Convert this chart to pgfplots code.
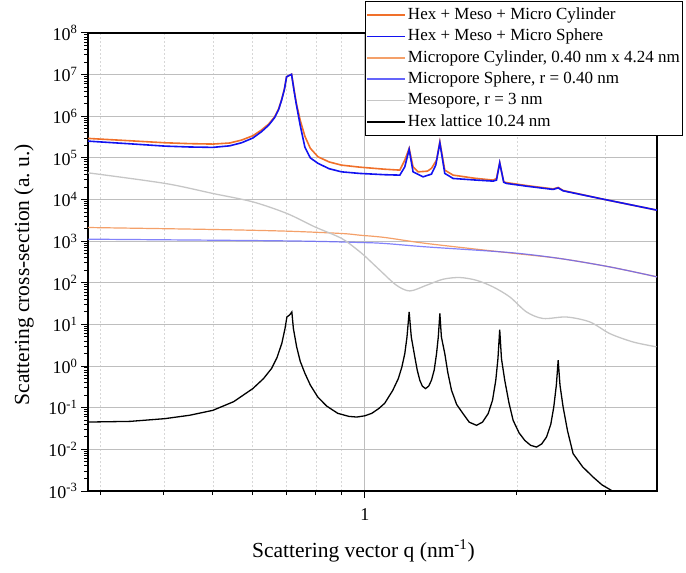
\documentclass[border=0pt]{standalone}
\usepackage{fontspec}
\setmainfont{Liberation Serif}
\usepackage{pgfplots}
\pgfplotsset{compat=1.18}

\definecolor{hexcyl}{RGB}{240,112,42}
\definecolor{hexsph}{RGB}{18,18,240}
\definecolor{microcyl}{RGB}{244,160,105}
\definecolor{microsph}{RGB}{100,100,250}
\definecolor{meso}{RGB}{198,198,198}
\definecolor{gridgray}{RGB}{190,190,190}
\definecolor{gridlight}{RGB}{215,215,215}

\begin{document}
\begin{tikzpicture}
\begin{axis}[
  scale only axis,
  width=569pt, height=458pt,
  xmode=log, ymode=log,
  xmin=0.283, xmax=3.79,
  ymin=1e-3, ymax=1e8,
  xtick={1}, xticklabels={1},
  minor xtick={0.3,0.4,0.5,0.6,0.7,0.8,0.9,2,3},
  ytick={1e-3,1e-2,1e-1,1,1e1,1e2,1e3,1e4,1e5,1e6,1e7,1e8},
  yticklabels={10\textsuperscript{-3},10\textsuperscript{-2},10\textsuperscript{-1},10\textsuperscript{0},
    10\textsuperscript{1},10\textsuperscript{2},10\textsuperscript{3},10\textsuperscript{4},
    10\textsuperscript{5},10\textsuperscript{6},10\textsuperscript{7},10\textsuperscript{8}},
  minor ytick={2e-3,3e-3,4e-3,5e-3,6e-3,7e-3,8e-3,9e-3,
    2e-2,3e-2,4e-2,5e-2,6e-2,7e-2,8e-2,9e-2,
    2e-1,3e-1,4e-1,5e-1,6e-1,7e-1,8e-1,9e-1,
    2,3,4,5,6,7,8,9,
    20,30,40,50,60,70,80,90,
    200,300,400,500,600,700,800,900,
    2e3,3e3,4e3,5e3,6e3,7e3,8e3,9e3,
    2e4,3e4,4e4,5e4,6e4,7e4,8e4,9e4,
    2e5,3e5,4e5,5e5,6e5,7e5,8e5,9e5,
    2e6,3e6,4e6,5e6,6e6,7e6,8e6,9e6,
    2e7,3e7,4e7,5e7,6e7,7e7,8e7,9e7},
  tick pos=left,
  tick align=outside,
  major tick length=7pt,
  minor tick length=4pt,
  tick style={black, line width=1pt},
  axis line style={black, line width=1.6pt},
  ymajorgrids, xmajorgrids, xminorgrids,
  major grid style={gridgray, line width=0.9pt},
  minor grid style={gridlight, line width=0.6pt, dash pattern=on 2pt off 2pt},
  tick label style={font=\fontsize{18}{18}\selectfont},
  xticklabel style={yshift=-7pt},
  xlabel={Scattering vector q (nm\textsuperscript{-1})},
  ylabel={Scattering cross-section (a.\ u.)},
  label style={font=\fontsize{21.5}{22}\selectfont},
  xlabel style={at={(axis description cs:0.484,-0.131)}, anchor=center},
  ylabel style={at={(axis description cs:-0.1125,0.472)}, anchor=center},
  legend cell align=left,
  legend style={
    at={(0.4868,1.0699)}, anchor=north west,
    draw=black, line width=0.8pt, fill=white,
    inner xsep=1pt, inner ysep=3pt,
    font=\fontsize{17}{20}\selectfont,
    nodes={inner xsep=2pt, inner ysep=2.95pt, text height=12pt, text depth=3.5pt},
    row sep=0pt,
  },
  legend image code/.code={\draw[#1, line width=1.6pt, opacity=1] (0pt,0pt) -- (38pt,0pt);},
]

% Hex + Meso + Micro Cylinder
\addplot[hexcyl, line width=1.6pt] coordinates {
 (0.283,294000) (0.343,258000) (0.402,231000) (0.450,220000) (0.500,215000)
 (0.540,228000) (0.570,268000) (0.600,340000) (0.624,466000) (0.645,650000)
 (0.663,973000) (0.675,1.5e6) (0.684,2.45e6) (0.693,4.5e6) (0.700,8.9e6)
 (0.708,9.5e6) (0.716,1.02e7) (0.724,4.5e6) (0.732,2.04e6) (0.745,800000)
 (0.761,330000) (0.780,170000) (0.808,106000) (0.850,80000)
 (0.899,67100) (0.977,60000) (1.095,53500) (1.173,50900) (1.200,88500)
 (1.224,169000) (1.246,61100) (1.275,46300) (1.330,48000) (1.355,56000)
 (1.387,88500) (1.408,244000) (1.440,50900) (1.496,38600) (1.650,32500)
 (1.795,29300) (1.823,32100) (1.850,76300) (1.884,26600) (1.908,25500)
 (2.100,21500) (2.360,18000) (2.415,19500) (2.470,16500) (2.921,10600) (3.790,5560)
};
\addlegendentry{Hex + Meso + Micro Cylinder}

% Hex + Meso + Micro Sphere
\addplot[hexsph, line width=1.6pt] coordinates {
 (0.283,253000) (0.343,218000) (0.402,192000) (0.450,183000) (0.500,179000)
 (0.540,195000) (0.570,231000) (0.600,300000) (0.624,424000) (0.645,610000)
 (0.663,930000) (0.675,1.45e6) (0.684,2.4e6) (0.693,4.4e6) (0.700,8.9e6)
 (0.708,9.5e6) (0.716,1.02e7) (0.724,4.2e6) (0.732,1.9e6) (0.745,600000)
 (0.761,180000) (0.780,100000) (0.808,73800) (0.850,55000)
 (0.899,46300) (0.977,42400) (1.095,39500) (1.173,38600) (1.200,61100)
 (1.224,160000) (1.246,46300) (1.304,35100) (1.355,40800) (1.382,67100)
 (1.408,231000) (1.440,42400) (1.496,32100) (1.650,29500) (1.795,27700)
 (1.823,29300) (1.850,76300) (1.884,26000) (1.908,24400) (2.100,20800)
 (2.360,17500) (2.415,19000) (2.470,16200) (2.921,10600) (3.790,5560)
};
\addlegendentry{Hex + Meso + Micro Sphere}

% Micropore Cylinder
\addplot[microcyl, line width=1.2pt, smooth] coordinates {
 (0.283,2130) (0.500,1910) (0.701,1740) (0.900,1530) (0.977,1394)
 (1.095,1228) (1.325,881) (1.937,523) (2.433,384) (3.056,241) (3.790,139)
};
\addlegendentry{Micropore Cylinder, 0.40 nm x 4.24 nm}

% Micropore Sphere
\addplot[microsph, line width=1.2pt, opacity=0.8, smooth] coordinates {
 (0.283,1117) (0.701,1016) (0.977,931) (1.095,881) (1.325,729)
 (1.937,533) (2.433,384) (3.056,241) (3.790,139)
};
\addlegendentry{Micropore Sphere, r = 0.40 nm}

% Mesopore
\addplot[meso, line width=1.3pt, smooth] coordinates {
 (0.283,43850) (0.402,24400) (0.500,14000) (0.600,8800) (0.701,4630)
 (0.796,2210) (0.900,1160) (0.977,560) (1.000,440) (1.071,201) (1.155,87.5)
 (1.228,63.8) (1.325,87.5) (1.429,122) (1.542,134) (1.664,115) (1.795,79.7)
 (1.937,45.8) (2.090,20) (2.255,13.9) (2.508,15.1) (2.790,11.5) (3.056,6.04)
 (3.400,3.79) (3.781,2.9)
};
\addlegendentry{Mesopore, r = 3 nm}

% Hex lattice
\addplot[black, line width=1.3pt] coordinates {
 (0.283,0.0453) (0.343,0.047) (0.402,0.0547) (0.450,0.066) (0.500,0.0865)
 (0.550,0.14) (0.600,0.288) (0.630,0.50) (0.654,0.885) (0.670,1.6)
 (0.685,3.53) (0.695,8) (0.701,15.1) (0.710,17) (0.717,20) (0.722,8)
 (0.733,2.88) (0.745,1.3) (0.761,0.671) (0.780,0.35) (0.807,0.181)
 (0.840,0.11) (0.884,0.0733) (0.930,0.062) (0.964,0.0597) (1.000,0.064)
 (1.032,0.0733) (1.065,0.095) (1.095,0.128) (1.136,0.262) (1.165,0.5)
 (1.184,0.95) (1.200,2.0) (1.212,5) (1.224,20) (1.236,5) (1.256,1.66)
 (1.270,0.8) (1.285,0.456) (1.300,0.33) (1.319,0.288) (1.338,0.33)
 (1.355,0.456) (1.372,0.8) (1.387,2.0) (1.398,5) (1.408,18.3) (1.418,5)
 (1.440,2.0) (1.460,0.7) (1.485,0.262) (1.520,0.12) (1.565,0.0721)
 (1.610,0.045) (1.664,0.0378) (1.710,0.045) (1.755,0.0721) (1.790,0.15)
 (1.817,0.456) (1.835,1.5) (1.850,7.54) (1.865,1.5) (1.893,0.456)
 (1.930,0.13) (1.967,0.0498) (2.020,0.025) (2.074,0.0164) (2.130,0.0125)
 (2.188,0.01135) (2.240,0.0135) (2.290,0.0198) (2.335,0.04) (2.367,0.104)
 (2.395,0.35) (2.415,1.38) (2.435,0.35) (2.470,0.104) (2.520,0.028)
 (2.585,0.0079) (2.700,0.0038) (2.832,0.00216) (2.950,0.0014) (3.080,0.00103)
 (3.300,0.0005)
};
\addlegendentry{Hex lattice 10.24 nm}

\end{axis}
\pgfresetboundingbox
\path ([shift={(-88pt,-82pt)}]current axis.south west) rectangle ([shift={(29pt,33pt)}]current axis.north east);
\end{tikzpicture}
\end{document}
